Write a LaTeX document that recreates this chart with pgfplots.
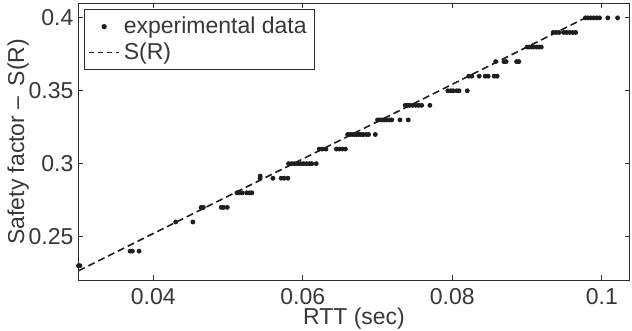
\documentclass[border=0pt]{standalone}
\usepackage{fontspec}
\setmainfont{Liberation Sans}
\usepackage{pgfplots}
\usepackage{pgfplotstable}
\pgfplotsset{compat=1.18}

\definecolor{axisgray}{RGB}{45,45,45}
\definecolor{textgray}{RGB}{55,55,55}
\definecolor{dotgray}{RGB}{30,30,30}

% Measured safety factor against round-trip time
\pgfplotstableread{
x y
0.0300 0.23
0.0302 0.23
0.0369 0.24
0.0372 0.24
0.0381 0.24
0.0430 0.26
0.0453 0.26
0.0464 0.27
0.0467 0.27
0.0491 0.27
0.0494 0.27
0.0499 0.27
0.0512 0.28
0.0515 0.28
0.0519 0.28
0.0525 0.28
0.0529 0.28
0.0532 0.28
0.0543 0.29
0.0543 0.2915
0.0560 0.29
0.0571 0.29
0.0575 0.29
0.0580 0.29
0.0581 0.30
0.0585 0.30
0.0589 0.30
0.0593 0.30
0.0597 0.30
0.0601 0.30
0.0605 0.30
0.0609 0.30
0.0612 0.30
0.0618 0.30
0.0622 0.31
0.0626 0.31
0.0631 0.31
0.0645 0.31
0.0649 0.31
0.0653 0.31
0.0657 0.31
0.0660 0.32
0.0663 0.32
0.0666 0.32
0.0669 0.32
0.0672 0.32
0.0675 0.32
0.0678 0.32
0.0681 0.32
0.0685 0.32
0.0688 0.32
0.0697 0.32
0.0700 0.33
0.0703 0.33
0.0706 0.33
0.0709 0.33
0.0712 0.33
0.0716 0.33
0.0719 0.33
0.0730 0.33
0.0741 0.33
0.0737 0.34
0.0740 0.34
0.0743 0.34
0.0747 0.34
0.0751 0.34
0.0755 0.34
0.0759 0.34
0.0770 0.34
0.0794 0.35
0.0798 0.35
0.0801 0.35
0.0806 0.35
0.0809 0.35
0.0820 0.35
0.0822 0.36
0.0826 0.36
0.0836 0.36
0.0844 0.36
0.0848 0.36
0.0856 0.36
0.0860 0.36
0.0858 0.37
0.0869 0.37
0.0872 0.37
0.0886 0.37
0.0889 0.37
0.0900 0.38
0.0903 0.38
0.0906 0.38
0.0909 0.38
0.0913 0.38
0.0916 0.38
0.0919 0.38
0.0935 0.39
0.0939 0.39
0.0943 0.39
0.0949 0.39
0.0953 0.39
0.0957 0.39
0.0961 0.39
0.0965 0.39
0.0978 0.40
0.0981 0.40
0.0985 0.40
0.0989 0.40
0.0993 0.40
0.0997 0.40
0.1008 0.40
0.1021 0.40
}\measured

% Fitted safety factor S(R)
\pgfplotstableread{
x y
0.0300 0.2265
0.0978 0.4000
}\fitted

\begin{document}
\fontsize{11.5}{13.5}\selectfont
\begin{tikzpicture}
\begin{axis}[
  name=main,
  scale only axis,
  width=275.5pt, height=138.5pt,
  xmin=0.03, xmax=0.1037,
  ymin=0.22, ymax=0.41,
  xtick={0.04,0.06,0.08,0.1},
  ytick={0.25,0.3,0.35,0.4},
  xticklabels={0.04,0.06,0.08,0.1},
  yticklabels={0.25,0.3,0.35,0.4},
  axis line style={axisgray, line width=0.6pt},
  tick style={axisgray, line width=0.6pt},
  tick align=inside,
  tick pos=both,
  major tick length=2.5pt,
  ticklabel style={text=textgray, font=\fontsize{11.5}{13.5}\selectfont},
  xticklabel style={yshift=0pt},
  yticklabel style={xshift=1.5pt},
  xlabel={RTT (sec)},
  ylabel={Safety factor – \,S(R)},
  label style={text=textgray, font=\fontsize{11.5}{13.5}\selectfont},
  xlabel style={yshift=6.5pt},
  ylabel style={yshift=-8pt},
  legend cell align=left,
  legend style={
    at={(0,1)}, anchor=north west,
    xshift=2.75pt, yshift=-2.85pt,
    draw=axisgray, line width=0.6pt, fill=white,
    text=textgray,
    font=\fontsize{11.5}{13.5}\selectfont,
    inner xsep=2pt, inner ysep=1.5pt,
    row sep=-1pt,
  },
]
\addplot[only marks, mark=*, mark size=1pt, color=dotgray,
  legend image code/.code={\fill[dotgray] (7.5pt,0pt) circle (1pt);}]
  table[x=x, y=y] {\measured};
\addlegendentry{experimental data}
\addplot[dashed, color=dotgray, line width=0.8pt,
  dash pattern=on 3.5pt off 2pt,
  legend image code/.code={\draw[dotgray, line width=0.6pt, dash pattern=on 2.5pt off 2pt] (0pt,0pt) -- (15pt,0pt);}]
  table[x=x, y=y] {\fitted};
\addlegendentry{S(R)}
\end{axis}
\pgfresetboundingbox
\path (main.south west) ++(-39.25pt,-25pt) coordinate (bbA);
\path (main.north east) ++(1.25pt,1.65pt) coordinate (bbB);
\path[use as bounding box] (bbA) rectangle (bbB);
\end{tikzpicture}
\end{document}
